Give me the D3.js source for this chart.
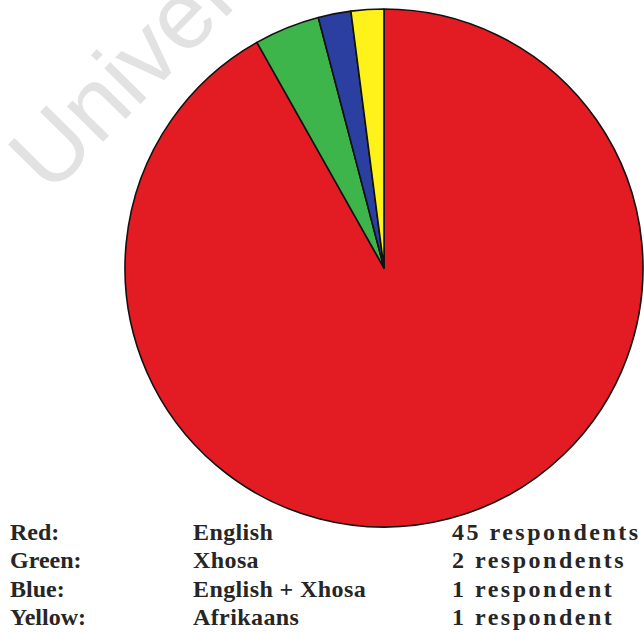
<!DOCTYPE html>
<html>
<head>
<meta charset="utf-8">
<script src="https://cdn.jsdelivr.net/npm/d3@7"></script>
<style>
  html, body { margin: 0; padding: 0; background: #ffffff; }
  svg { display: block; }
</style>
</head>
<body>
<script>
// Home language of respondents
const colourNames = ["Red:", "Green:", "Blue:", "Yellow:"];
const languages = ["English", "Xhosa", "English + Xhosa", "Afrikaans"];
const respondents = [45, 2, 1, 1];
const countLabels = ["45 respondents", "2 respondents", "1 respondent", "1 respondent"];
const sliceColours = ["#e31c24", "#3db54a", "#2b3fa0", "#fff21a"];

const width = 644, height = 632;
const cx = 384, cy = 268, radius = 259;

const svg = d3.select("body").append("svg")
  .attr("width", width)
  .attr("height", height);

// faint watermark behind the chart
svg.append("text")
  .attr("transform", "translate(50,196) rotate(-45.5)")
  .attr("font-family", "'Liberation Sans', Arial, sans-serif")
  .attr("font-size", 96)
  .attr("fill", "#e2e2e2")
  .text("University of Cape Town");

const pie = d3.pie().sort(null).value(d => d);
const arc = d3.arc().innerRadius(0).outerRadius(radius);

svg.append("g")
  .attr("transform", `translate(${cx},${cy})`)
  .selectAll("path")
  .data(pie(respondents))
  .join("path")
  .attr("d", arc)
  .attr("fill", (d, i) => sliceColours[i])
  .attr("stroke", "#111")
  .attr("stroke-width", 1.6)
  .attr("stroke-linejoin", "round");

// legend rows
const rowY = d3.scalePoint().domain(d3.range(colourNames.length)).range([540, 625]);
const legend = svg.append("g")
  .attr("font-family", "'Times New Roman', Times, 'Liberation Serif', 'DejaVu Serif', serif")
  .attr("font-weight", "bold")
  .attr("font-size", 24)
  .attr("fill", "#262626");

const columns = [
  { x: 10, texts: colourNames, spacing: 0 },
  { x: 193, texts: languages, spacing: 0.4 },
  { x: 452, texts: countLabels, spacing: 2.5 }
];
columns.forEach(col => {
  legend.append("g").selectAll("text")
    .data(col.texts)
    .join("text")
    .attr("x", col.x)
    .attr("y", (d, i) => rowY(i))
    .attr("letter-spacing", col.spacing)
    .text(d => d);
});
</script>
</body>
</html>
